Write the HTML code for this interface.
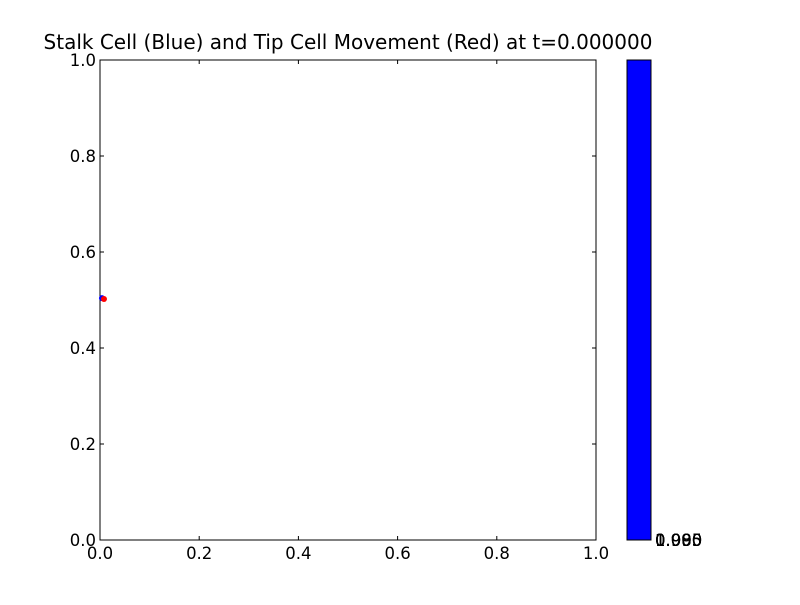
<!DOCTYPE html>
<html><head><meta charset="utf-8"><style>
body{margin:0;background:#fff;}
svg text{font-family:"DejaVu Sans",sans-serif;}
</style></head><body>
<svg width="800" height="600" xmlns="http://www.w3.org/2000/svg">
<rect width="800" height="600" fill="#fff"/>
<text x="348" y="49" font-size="20" text-anchor="middle">Stalk Cell (Blue) and Tip Cell Movement (Red) at t=0.000000</text>
<g id="ax"></g>
<rect x="627" y="60" width="24" height="480" fill="#0000ff" stroke="#000" stroke-width="1"/>
<g id="cb"></g>
</svg>
<script>
const xTicks=[0,0.2,0.4,0.6,0.8,1.0];
const yTicks=[0,0.2,0.4,0.6,0.8,1.0];
const stalkX=[0.004], stalkY=[0.504];
const tipX=[0.008], tipY=[0.502];
const cbLabels=["0.985","0.990","0.995","1.000","1.005"];
const L=100,R=596,T=60,B=540;
const sx=v=>L+v*(R-L), sy=v=>B-v*(B-T);
const NS="http://www.w3.org/2000/svg";
const ax=document.getElementById('ax');
function mk(t,a,p){const e=document.createElementNS(NS,t);for(const k in a)e.setAttribute(k,a[k]);(p||ax).appendChild(e);return e;}
let fr=mk('rect',{x:L,y:T,width:R-L,height:B-T,fill:'none',stroke:'#000','stroke-width':1});


xTicks.forEach(v=>{const x=sx(v);
mk('line',{x1:x,y1:B,x2:x,y2:B-4,stroke:'#000'});mk('line',{x1:x,y1:T,x2:x,y2:T+4,stroke:'#000'});
const t=mk('text',{x:x,y:B+19,'font-size':16.5,'text-anchor':'middle'});t.textContent=v.toFixed(1);

});
yTicks.forEach(v=>{const y=sy(v);
mk('line',{x1:L,y1:y,x2:L+4,y2:y,stroke:'#000'});mk('line',{x1:R,y1:y,x2:R-4,y2:y,stroke:'#000'});
const t=mk('text',{x:L-4,y:y+6,'font-size':16.5,'text-anchor':'end'});t.textContent=v.toFixed(1);

});
stalkX.forEach((v,i)=>{const c=mk('circle',{cx:sx(v),cy:sy(stalkY[i]),r:3,fill:'#0000ff'});

});
tipX.forEach((v,i)=>{const c=mk('circle',{cx:sx(v),cy:sy(tipY[i]),r:3,fill:'#ff0000'});

});
const cb=document.getElementById('cb');
cbLabels.forEach(s=>{const t=mk('text',{x:655,y:546,'font-size':16.5},cb);t.textContent=s;

});
mk('line',{x1:627,y1:540,x2:631,y2:540,stroke:'#000'},cb);
</script>
</body></html>
